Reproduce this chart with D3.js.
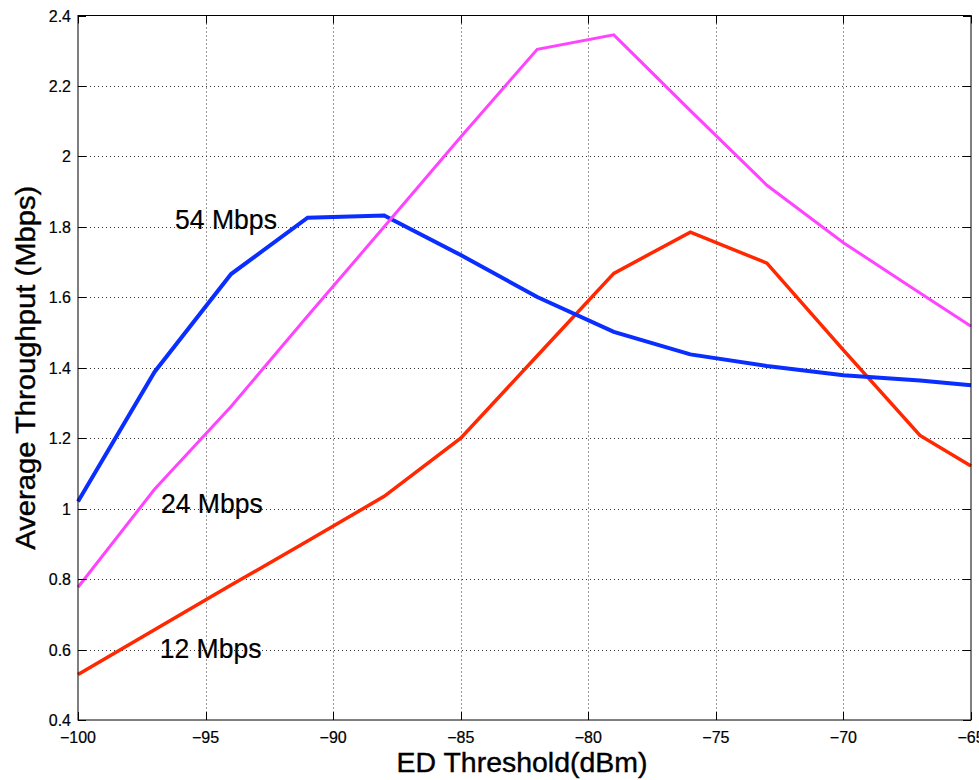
<!DOCTYPE html>
<html>
<head>
<meta charset="utf-8">
<script src="https://d3js.org/d3.v7.min.js"></script>
<style>
  body { margin: 0; background: #fff; }
  svg { font-family: "Liberation Sans", Arial, Helvetica, sans-serif; }
  .grid line { stroke: #333; stroke-width: 1; stroke-dasharray: 1 3; }
  .tick-label { font-size: 16px; fill: #000; stroke: #000; stroke-width: 0.2; }
  .axis-title { font-size: 28px; fill: #000; text-anchor: middle; stroke: #000; stroke-width: 0.4; }
  .series-label { font-size: 28px; fill: #000; stroke: #000; stroke-width: 0.2; }
  .series { fill: none; stroke-linejoin: miter; }
</style>
</head>
<body>
<div id="chart"></div>
<script>
// ED threshold sweep (dBm)
const thresholds = [-100, -97, -94, -91, -88, -85, -82, -79, -76, -73, -70, -67, -65];
// average throughput (Mbps) per data rate
const tp54 = [1.02, 1.388, 1.666, 1.826, 1.832, 1.72, 1.601, 1.502, 1.438, 1.405, 1.379, 1.364, 1.35];
const tp24 = [0.777, 1.055, 1.29, 1.547, 1.80, 2.055, 2.304, 2.345, 2.13, 1.918, 1.755, 1.612, 1.518];
const tp12 = [0.529, 0.656, 0.783, 0.908, 1.035, 1.20, 1.434, 1.668, 1.785, 1.697, 1.45, 1.208, 1.121];

const xTicks = [-100, -95, -90, -85, -80, -75, -70, -65];
const yTicks = [0.4, 0.6, 0.8, 1, 1.2, 1.4, 1.6, 1.8, 2, 2.2, 2.4];

const labelNames = ["54 Mbps", "24 Mbps", "12 Mbps"];
const labelX = [-96.2, -96.75, -96.8];
const labelY = [1.793, 0.987, 0.575];

const W = 979, H = 780;
const margin = { left: 78, right: 8, top: 15.5, bottom: 60 };

const svg = d3.select("#chart").append("svg")
  .attr("width", W).attr("height", H);

const x = d3.scaleLinear().domain([-100, -65]).range([margin.left, W - margin.right]);
const y = d3.scaleLinear().domain([0.4, 2.4]).range([H - margin.bottom, margin.top]);

const x0 = x.range()[0], x1 = x.range()[1];
const y0 = y.range()[0], y1 = y.range()[1];

// grid
const grid = svg.append("g").attr("class", "grid");
grid.selectAll(".gx").data(xTicks.slice(1, -1)).enter().append("line")
  .attr("x1", d => Math.round(x(d)) + 0.5).attr("x2", d => Math.round(x(d)) + 0.5)
  .attr("y1", y1).attr("y2", y0);
grid.selectAll(".gy").data(yTicks.slice(1, -1)).enter().append("line")
  .attr("x1", x0).attr("x2", x1)
  .attr("y1", d => Math.round(y(d)) + 0.5).attr("y2", d => Math.round(y(d)) + 0.5);

// series
const line = d3.line().x((d, i) => x(thresholds[i])).y(d => y(d));
const series = [
  { values: tp12, color: "#ff2800", width: 3.5 },
  { values: tp54, color: "#0a2eff", width: 4 },
  { values: tp24, color: "#ff44ff", width: 3 }
];
svg.selectAll(".series").data(series).enter().append("path")
  .attr("class", "series")
  .attr("stroke", d => d.color)
  .attr("stroke-width", d => d.width)
  .attr("d", d => line(d.values));

// axes (MATLAB style box with inward ticks)
const tickLen = 8;
const axes = svg.append("g").attr("stroke", "#000").attr("stroke-width", 1);
axes.append("rect")
  .attr("x", x0).attr("y", y1).attr("width", x1 - x0).attr("height", y0 - y1)
  .attr("fill", "none");
xTicks.forEach(t => {
  const px = Math.round(x(t)) + 0.5;
  axes.append("line").attr("x1", px).attr("x2", px).attr("y1", y0).attr("y2", y0 - tickLen);
  axes.append("line").attr("x1", px).attr("x2", px).attr("y1", y1).attr("y2", y1 + tickLen);
});
yTicks.forEach(t => {
  const py = Math.round(y(t)) + 0.5;
  axes.append("line").attr("x1", x0).attr("x2", x0 + tickLen).attr("y1", py).attr("y2", py);
  axes.append("line").attr("x1", x1).attr("x2", x1 - tickLen).attr("y1", py).attr("y2", py);
});

const fmtX = d => String(d).replace("-", "\u2212");
svg.selectAll(".xl").data(xTicks).enter().append("text")
  .attr("class", "tick-label")
  .attr("x", d => x(d)).attr("y", y0 + 23)
  .attr("text-anchor", "middle")
  .text(fmtX);

svg.selectAll(".yl").data(yTicks).enter().append("text")
  .attr("class", "tick-label")
  .attr("x", x0 - 7).attr("y", d => y(d) + 6)
  .attr("text-anchor", "end")
  .text(d => String(d));

// axis titles
svg.append("text").attr("class", "axis-title")
  .attr("x", 522).attr("y", 772)
  .attr("textLength", 251).attr("lengthAdjust", "spacingAndGlyphs")
  .text("ED Threshold(dBm)");
svg.append("text").attr("class", "axis-title")
  .attr("transform", `translate(35,${(y0 + y1) / 2}) rotate(-90)`)
  .attr("textLength", 364).attr("lengthAdjust", "spacingAndGlyphs")
  .text("Average Throughput (Mbps)");

// series labels
svg.selectAll(".series-label").data(labelNames).enter().append("text")
  .attr("class", "series-label")
  .attr("x", (d, i) => x(labelX[i]))
  .attr("y", (d, i) => y(labelY[i]))
  .attr("textLength", 102)
  .attr("lengthAdjust", "spacingAndGlyphs")
  .text(d => d);
</script>
</body>
</html>
